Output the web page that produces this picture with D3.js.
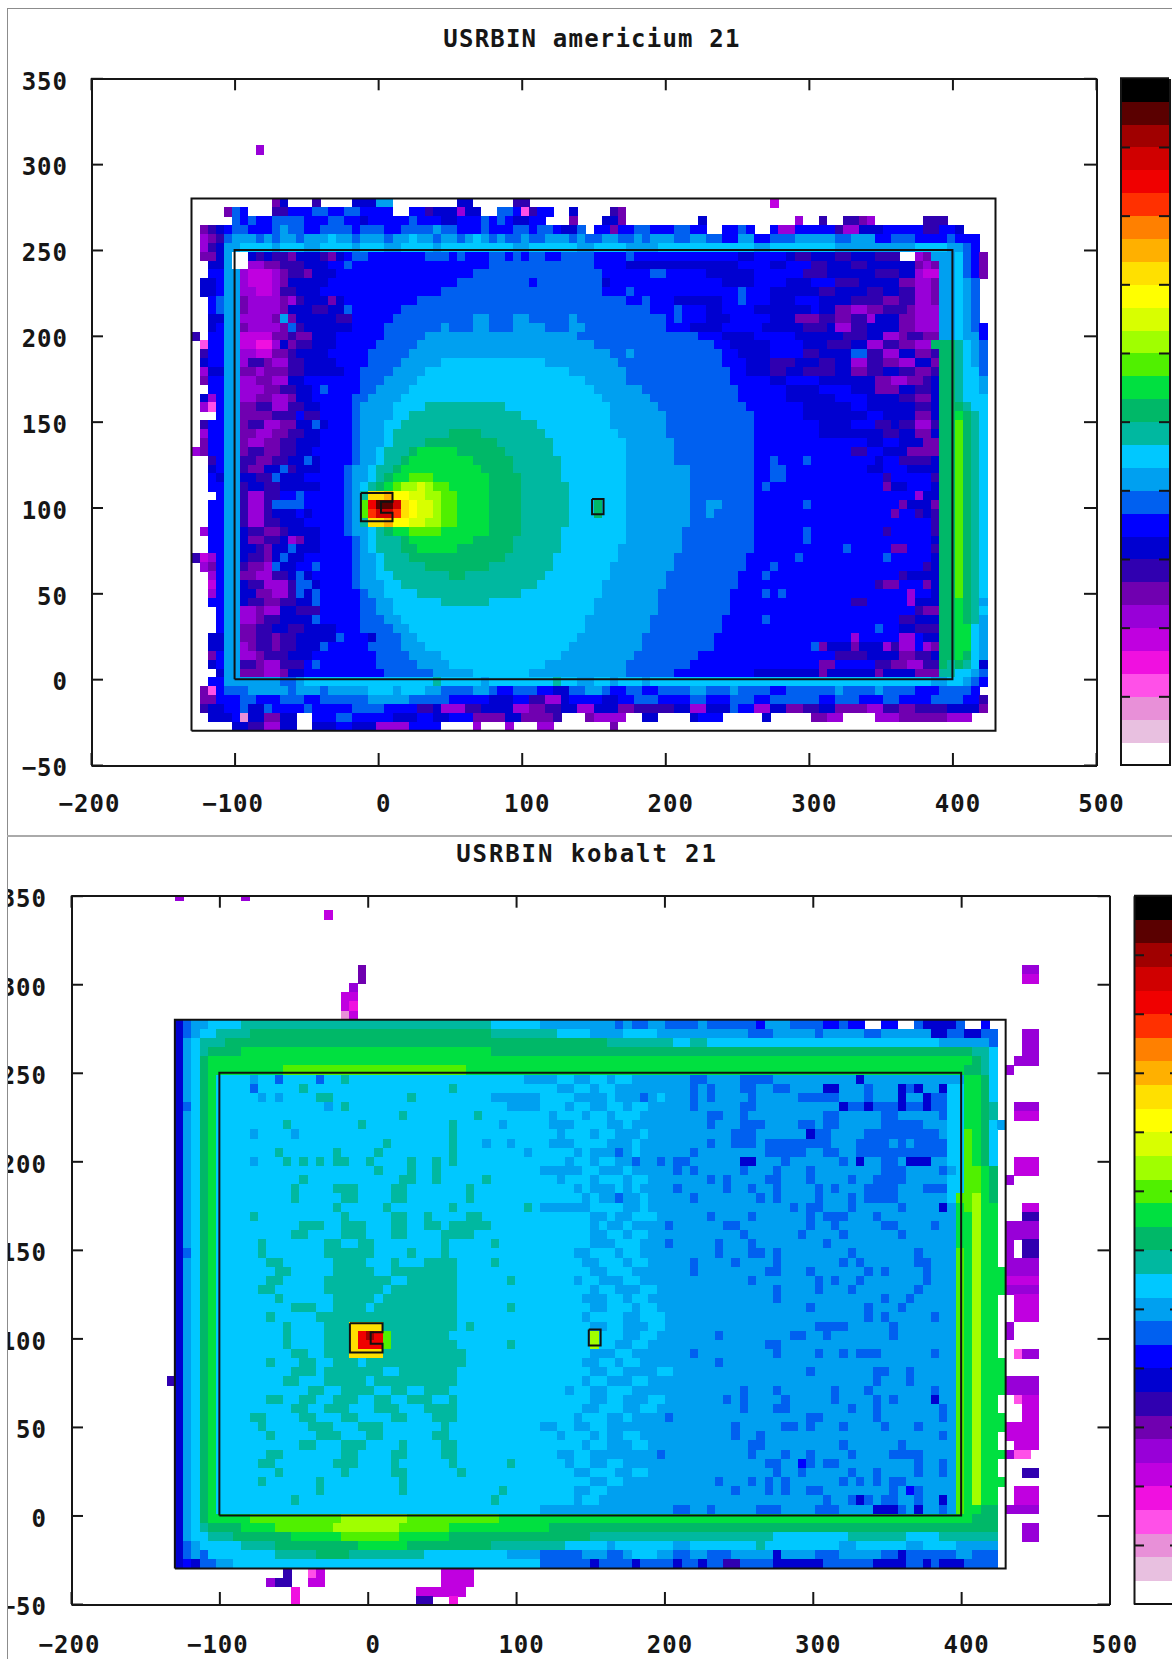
<!DOCTYPE html>
<html>
<head>
<meta charset="utf-8">
<script src="https://cdn.jsdelivr.net/npm/d3@7"></script>
<style>
body{margin:0;background:#fff}
svg{display:block}
text{font-family:"DejaVu Sans Mono",monospace;font-weight:bold;font-size:24px;fill:#161616;letter-spacing:1px}
.axis path,.axis line{stroke:#161616;stroke-width:2px}
</style>
</head>
<body>
<svg id="chart" width="1172" height="1659"></svg>
<script>
// colour levels of the palette, white (lowest) to black (highest)
var levelCodes = '_abcdefghijklmnopqrstuvwxyzABC'
var levelColors = ['#ffffff','#e8c0e0','#e890d8','#ff50e8','#f010e0','#c000e0','#9800d8','#7000b0','#3000b0','#0000d0',
    '#0000ff','#0060f0','#00a0f0','#00c8ff','#00b8a0','#00b868','#00e040','#50f000','#a0ff00','#d8ff00',
    '#ffff00','#ffe000','#ffb000','#ff8000','#ff3000','#f00000','#d00000','#a00000','#5a0000','#000000']

var xTicks = [-200,-100,0,100,200,300,400,500]
var yTicks = [-50,0,50,100,150,200,250,300,350]
var binStartX = -130, binWidthX = 5.6, binStartY = -30, binWidthY = 5.1667

// geometry outlines, in data units
var hallX = [-130,430], hallY = [-30,280]
var roomX = [-100,400], roomY = [0,250]
var sourceX = [-12,10,10,2,2,10,10,-12,-12], sourceY = [108.5,108.5,103.4,103.4,97,97,92,92,108.5]
var targetX = [149,157,157,149,149], targetY = [105,105,96,96,105]

// rows of level runs, top row first: letter = level, number = column the run ends at
var amTopRow = 65
var amRows = [
"_8 f9","","","","","",
"_10 g11 i12 _15 h16 _20 i23 l25 _33 i35 _40 h42 _72 e73",
"_4 g5 k6 j7 _10 h12 j15 k17 j19 k21 j25 _27 j29 h30 i33 f34 i36 _38 k40 j41 c42 h43 j45 _47 i48 _52 h53 g54",
"_5 k6 j7 k8 j10 k14 j17 k19 j21 i22 j27 k28 j31 i33 j36 k37 j38 k39 j40 i42 j44 _47 g48 _51 i53 g54 _63 i64 _75 f76 _78 h79 _81 h83 g84 f85 _91 h94",
"_1 g2 h3 i4 j5 k7 j10 k11 l12 k14 j16 k20 j21 k24 j26 k30 l31 k33 j36 k37 j40 k42 j43 k45 j46 i48 k49 _50 j52 g53 j55 k57 j60 k62 j64 _66 j68 k69 j70 _72 j73 f75 j80 h81 f83 i86 j91 h93 j95 i96",
"_1 f2 g3 h4 k5 l8 k9 l10 k11 l13 k14 l17 m18 l20 k21 l24 k25 l27 m28 l30 k31 l33 k34 l35 m36 l37 k38 l39 k41 l42 k44 l47 k48 l49 k51 l53 k55 l56 k57 l60 k62 l64 k66 j68 l70 j72 k75 l80 k82 l85 j87 k90 j94 k95 j98",
"_1 f2 h3 i4 l6 m10 l11 m14 l16 m20 l21 m24 l26 m30 l31 m40 l42 m48 l50 m54 l58 m70 l72 m80 l90 m94 l96 k97 j98",
"_1 g3 i4 l5 _7 i8 h9 i10 h12 g13 i16 h17 g18 i19 j20 k22 j29 k32 j33 k34 j37 k39 j40 k41 j42 k44 j46 k50 j54 k55 j68 i70 j74 i75 h77 i80 h82 i85 h88 _90 f91 g92 l95 m96 k97 j98 g99",
"_2 i4 l5 _7 f9 g11 h14 i17 j19 k20 j37 k50 j54 i68 j72 i74 j77 h79 i82 h84 i89 i90 g91 f92 g93 l95 m96 k97 j98 g99",
"_2 j4 l6 f7 e10 f11 g12 h14 g15 i18 j35 k51 j57 k59 j64 i70 j76 h79 i82 i85 h88 i90 f91 e93 l95 m96 k97 j98 g99",
"_1 i3 j4 l6 f7 e10 f11 g12 i17 j33 k42 j43 k51 i52 j66 i70 j74 i77 j80 h83 i85 i88 g90 f92 g93 l95 m96 l97 k98",
"_1 i3 j4 l6 f8 e10 f11 h13 i16 j31 k51 j54 k55 j68 k69 j72 i76 i78 h80 i84 h86 i88 h90 f92 g93 l95 m96 l97 k98",
"_2 j3 k4 l6 g7 f11 g12 f13 h14 i17 g18 i19 j28 k54 j56 k57 j60 i66 j68 k69 j72 i75 j78 i80 i82 h86 g88 h90 f92 g93 l95 m96 l97 k98",
"_2 j3 k4 l6 g7 f8 f11 g12 i15 h17 i19 k20 j26 k57 j60 k61 j64 i66 j70 i74 i77 j78 i80 g82 f84 g86 h89 g90 f93 l95 m96 l97 k98",
"_2 i4 l6 f7 f10 g11 l12 g13 i18 h20 j25 k35 l37 k40 l42 k47 l48 k59 j60 k61 j64 i67 j72 i75 g78 h80 g82 h84 f85 i88 g90 f93 l95 m96 l97 k98",
"_2 i3 j4 l6 g7 f9 f11 g12 k13 h14 i20 j24 k31 l32 k35 l37 k40 l44 k47 l49 k59 j62 i66 j71 i76 h79 i80 f82 h84 i88 g90 f93 l95 m96 l97 k98 j99",
"h1 _2 j4 l6 e10 g12 h13 g15 i18 j24 k29 l48 k63 j66 i70 j75 i78 i81 h84 i86 f88 g89 h91 g93 l95 m96 l98 j99",
"_1 c2 j4 l6 e8 d10 f11 i12 g13 h15 i18 j23 k28 l50 k65 j67 i72 j76 i79 h82 i84 f86 h88 g90 f92 o95 n96 m97 l98 k99",
"_1 h2 j4 l6 f8 e10 g12 h13 i17 j22 k27 l52 k54 l55 k66 j68 i72 j76 h78 i82 k84 h86 f88 i90 g92 h93 o95 n96 m97 l98 k99",
"_1 i2 j4 l6 f7 h9 g10 f12 h14 i18 j22 k26 l31 m44 l53 k66 j69 i72 h75 i78 h80 i82 f84 h86 g88 f90 i92 g93 o95 n96 m97 l98 k99",
"_1 f2 i4 l6 g8 f9 g12 h14 i19 j21 k25 l29 m47 l54 k67 j69 i72 h74 i76 h80 i82 g84 h86 i88 h90 g92 h93 o95 n96 m98 k99",
"_1 g2 j4 l6 f8 g10 f12 i14 j21 k24 l28 m49 l54 k67 j72 i74 j78 i82 i85 g87 f89 g91 h92 i93 o95 n96 m98 l99",
"_2 j4 l6 f7 f9 g11 h13 i15 j16 k17 j21 k23 l27 m50 l56 k68 j74 i78 j82 i85 g88 i90 h92 i93 o95 n96 m98 l99",
"_1 i2 f3 j4 l6 f8 g10 f12 g13 i15 j20 k22 l26 m51 l57 k68 j74 i80 j84 i86 i88 h90 g92 i93 o95 n96 m99",
"_1 f2 c3 j4 l6 g8 h10 f12 h14 i16 j20 k21 l25 m29 n39 m52 l58 k69 j76 i82 j84 i86 i90 h92 i93 o96 n97 m99",
"_3 j4 l6 g7 g10 h13 j14 h16 j20 k21 l25 m27 n41 m52 l59 k70 j76 i84 j86 i88 i90 g92 i93 o95 p96 o97 n98 m99",
"_1 h2 j4 l6 g7 h9 f11 g13 i15 k16 i17 j20 k21 l24 m26 n43 m52 l59 k70 j78 i82 j85 h87 i88 h90 f92 h93 o95 q96 o97 n98 m99",
"_1 f2 j4 l6 g8 f10 g12 h14 i16 j20 k21 l24 m25 n32 o36 n44 m53 l59 k70 j78 i86 h88 i90 g92 i93 o95 q96 o97 n98 m99",
"_1 g2 j4 l6 g7 f9 g11 h13 i16 j20 k21 l24 m25 n29 o38 n45 m54 l60 k70 j84 i86 j88 i91 g93 o95 q96 o97 n98 m99",
"f1 g2 j4 l6 g7 h9 g11 h13 i15 j20 k21 l23 m24 n27 o28 p33 o39 n45 m54 l60 k70 j82 h84 j86 i89 g93 o95 q96 o97 n98 m99",
"_2 h3 j4 l6 h8 g10 h12 i14 k15 i16 j20 k21 l23 m24 n26 o27 p35 o40 n46 m54 l60 k70 j72 k73 j76 k77 j85 i86 j88 h92 i93 o95 q96 o97 n98 m99",
"_2 i3 j4 l6 h7 g9 i11 k12 h13 i16 j19 k20 l22 m23 n25 o26 p36 o40 n46 m54 l62 k70 j72 k74 j84 i86 j89 i93 o95 q96 o97 n98 m99",
"_2 j3 i4 l6 i8 h10 k11 i14 j19 k20 l22 m23 n24 o25 p27 q30 p37 o41 n46 m54 l62 k70 j72 k74 j86 h87 j92 h93 o95 q96 o97 n98 m99",
"_2 j4 l6 h7 i9 h11 i16 j19 k20 l21 m22 n23 o24 p25 q26 r28 s29 r30 q32 p37 o41 n47 m54 l62 k70 j71 k72 j86 g87 i89 j92 i93 o95 q96 o97 n98 m99",
"_3 j4 l6 h7 f9 h11 j13 k14 j19 k20 l21 n22 u24 v25 t27 s29 r31 q33 p37 o41 n47 m54 l62 k70 j90 f91 i93 o95 q96 o97 n98 m99",
"_2 j4 l6 h7 f9 h10 k11 k14 j19 k20 l21 q22 y23 B25 z26 u27 t28 s30 r31 q33 p37 o41 n47 m50 o51 m54 l62 k64 l66 k70 j76 k77 j88 g89 i92 g93 o95 q96 o97 n98 m99",
"_2 j4 l6 h7 f9 h10 i13 j14 i15 j19 k20 l21 q22 x23 z25 x26 u27 t28 s30 r31 q33 p37 o41 n47 m50 o51 m54 l62 k64 l65 k70 j87 g88 j90 h91 i92 h93 o95 q96 o97 n98 m99",
"_2 j4 l6 h7 f9 h11 i14 j19 k20 l21 n22 u24 v25 t27 s29 r31 q33 p37 o41 n47 m54 l62 k70 j92 h93 o95 q96 o97 n98 m99",
"_1 f2 j4 l6 i7 h9 g11 h12 i16 j19 k20 l22 m23 n24 o25 p27 q31 p37 o41 n46 m54 l61 k70 j76 k77 j86 h87 j92 h93 o95 q96 o97 n98 m99",
"_2 j4 l6 i7 g9 h11 i12 f13 g14 i16 j20 k21 l22 m23 n26 o27 p35 o40 n46 m54 l61 k70 j76 k77 j92 i93 o95 q96 o97 n98 m99",
"_2 j4 l6 i8 h9 g10 i12 k13 i16 j20 k21 l22 m23 n26 o28 p33 o40 n46 m53 l61 k70 j81 k82 j87 g89 j92 h93 o95 q96 o97 n98 m99",
"h1 e2 f3 j4 l6 i7 h9 g10 i11 k12 i14 j20 k21 l23 m24 n27 o39 n45 m53 l60 k69 j75 k76 j86 k87 j92 i93 o95 q96 o97 n98 m99",
"_1 f2 g3 j4 l6 h7 g9 f10 k11 i13 j15 k16 j20 k21 l23 m24 n29 o37 n45 m52 l60 k69 j72 k73 j91 h92 i93 o95 q96 o97 n98 m99",
"_2 f3 j4 l6 g8 f10 h12 i13 k14 i15 j20 k21 l23 m25 n32 o34 n44 m52 l59 k68 j71 k72 j88 h89 i93 o95 q96 o97 n98 m99",
"_2 e3 j4 l6 i7 h9 f12 h13 k15 i16 j20 k21 l24 m26 n43 m51 l59 k68 j85 h86 g88 j91 g92 i93 o95 q96 o97 n98 m99",
"_2 f3 j4 l6 i8 g10 f12 h13 k14 i15 k16 j21 k22 l24 m28 n41 m51 l58 k67 j71 k72 j73 k74 j89 f90 j92 i93 o95 q96 o97 n98 m99",
"_2 j4 l6 i7 h9 g11 h13 i15 k16 j21 k23 l25 m31 n37 m50 l58 k67 j82 h84 j89 f90 i93 o95 p96 o97 n98 l99",
"_3 j4 l6 f7 f8 g9 f11 i13 h16 j21 k23 l25 m50 l58 k67 j90 h91 g93 o95 p96 o97 n98 m99",
"_3 j4 l6 f7 f8 g9 h11 i15 k16 j21 k24 l26 m49 l57 k66 j71 k72 j88 h90 i93 o95 p96 o97 n98 l99",
"_3 j4 l6 g8 h10 i12 h14 i18 j21 k25 l27 m49 l57 k66 j85 k86 j88 i90 h93 o95 p97 m98 l99",
"_2 i4 l6 g8 h10 g11 h13 i18 k19 j22 i23 k26 l28 m48 l56 k65 j82 f83 j88 f90 j91 i93 o95 p97 m98 l99",
"_2 i4 l6 f7 g8 h10 g11 h13 i16 k17 j22 k26 l29 m47 l56 k65 j77 k78 g79 i82 g83 i86 f87 h88 f90 j91 f92 g93 o95 p97 m98 l99",
"_2 g3 j4 l6 f8 g9 h12 i15 j23 k27 l31 m46 l55 k63 j80 h84 i88 g90 h92 i93 o95 p96 o97 m98 l99",
"_2 i3 j4 l6 h8 g9 f11 h14 j15 k16 j23 k28 l32 m44 l54 k62 j78 g80 j85 h87 g89 f91 h93 o94 n95 o96 n97 m98 i99",
"_3 i4 l6 g7 g9 f11 g12 i14 j24 k30 l35 m42 l54 k60 j70 i78 g79 i85 g86 i90 g93 n95 m97 l98 k99",
"_2 j4 l11 k13 l14 m30 n31 m36 l37 m45 n46 m48 l50 m52 l53 m56 l57 m92 l94 m96 l97 k98 j99",
"_1 g2 c3 j4 k7 l12 k13 l16 k17 l22 m25 l26 m29 l31 k35 l37 k38 j40 k43 j45 i47 k49 l51 k52 j54 k56 j58 k62 l64 k67 l68 k72 j74 k80 l81 k85 l86 k90 j93 k97 j98",
"_1 g3 j6 k8 j11 k14 j16 k22 l27 k32 j37 i40 j42 h44 f46 i47 j51 i53 j55 k58 j62 k64 j67 k70 j72 k78 j80 k83 j86 k88 j92 k96 j98 h99",
"_1 h2 i4 j6 k7 i9 k10 j14 k15 j20 k24 j28 h30 i31 f34 h36 i40 f42 g44 h46 i48 f50 i53 g55 h60 i62 f64 i67 k68 j70 f72 i74 g76 h78 i80 g84 f86 h88 g90 h94 i96 i98 g99",
"_2 i5 j6 b7 i9 g11 i13 _15 j18 k20 j25 i28 j30 i32 j35 g39 i41 g45 h46 _49 g50 f54 _56 i58 _62 i63 j66 _71 i72 _77 g79 f81 _85 f88 g90 g94 f97",
"_5 i7 h9 f11 i13 _15 i18 j20 i23 f25 f27 j31 _35 f36 _39 f40 _43 f45 _52 g53"
]
var amCbTicks = [3,6,9,12,15,18,21,24,27]

var coTopRow = 73
var coRows = [
"f1 _8 f9","","_18 e19","","","","","",
"_22 g23 _102 f104",
"_22 g23 _102 e104",
"_21 f22",
"_20 e22",
"_20 e21 d22",
"_20 b21 e22",
"i1 k2 l4 m8 n38 m44 l53 k54 l55 k57 l59 k63 l64 k70 j71 l74 k78 j80 k81 j83 _85 j87 _89 k90 i94 k95 _97 j98",
"i1 k2 l3 m5 n9 o38 n46 m50 l54 m58 l69 k72 l77 k78 l83 k85 l91 i93 k95 i97 k99 _102 f104",
"i1 l2 m3 n6 o52 n60 m62 n64 m92 l98 k99 _102 f104",
"i1 l2 m3 n4 o8 p38 o96 n98 m99 _102 f104",
"i1 l2 m3 o4 p96 o97 n98 m99 _101 f104",
"i1 l2 m3 o4 p13 q35 p95 o97 n98 m99 _100 f101",
"i1 l2 m3 o4 p5 m9 l10 m12 k13 m17 k18 m20 n21 m42 l46 m48 l50 m52 l53 m55 l62 k64 l68 k72 l82 i83 l95 p97 o98 m99",
"i1 l2 m3 o4 p5 m9 k10 m15 n16 m33 n34 m46 l48 m50 l51 m53 l62 k63 l64 k65 l68 k70 l72 k74 l78 i80 l83 k84 l87 i88 k89 i90 l92 i93 m95 p97 o98 m99",
"i1 l2 m3 o4 p5 m10 l11 m12 l13 m17 n19 m28 n29 m38 l44 m48 l52 m53 l56 k57 l58 m59 l62 k63 l64 k65 l69 k70 l75 k80 l83 k84 l87 i88 l90 i91 k93 m95 p97 o98 m99",
"i1 k2 m3 o4 p5 m18 l19 m20 n21 m40 l44 m47 l48 m50 l52 m54 l55 m57 l62 k63 l68 k70 l80 i81 k83 i84 k87 i88 k90 i91 k93 m95 p97 o98 n99 _101 f104",
"i1 l2 m3 o4 p5 m27 n28 m36 n37 m45 l46 m49 l50 m52 l53 m56 l64 k66 l68 k69 l78 k80 l85 k87 l92 k93 m95 p97 o98 n99 _101 e104",
"i1 l2 m3 o4 p5 m13 n14 m22 n23 m33 n34 m39 l40 m45 l48 m52 l54 m55 l64 k65 l68 k71 l75 k77 l78 k80 l85 k90 l93 m95 p97 o98 m99 l100",
"i1 l2 m3 o4 p5 m9 l10 m14 l15 m33 n34 m46 l47 m50 l51 m53 l56 m57 l67 k70 l76 i77 k79 l83 k85 k92 l93 m95 q96 p97 o98 m99",
"i1 l2 m3 o4 p5 m25 n26 m33 n34 m37 l38 m40 l41 m45 l48 m52 l55 m56 l64 k65 l67 k70 l71 k79 l82 k86 l87 k88 l89 k93 m95 q96 p97 o98 m99",
"i1 l2 m3 o4 p5 m12 n13 m19 n20 m24 n25 m33 n34 m42 l43 m48 l49 m50 l53 k54 l55 m56 l62 k63 l71 k76 l78 k80 l82 k93 m95 q96 p97 o98 m99",
"i1 l2 m3 o4 p5 m9 l10 m13 n14 m15 n16 m17 n18 m19 n21 m23 n24 m28 n29 m31 n32 m33 n34 m47 l48 m50 l51 m53 l55 k56 l58 k59 l60 k62 l68 i70 l73 k74 l80 k81 l82 i83 l85 k87 l88 i91 l93 m95 q96 p97 o98 m99 _101 e104",
"i1 l2 m3 o4 p5 m24 n25 m28 n29 m31 n32 m44 l49 m51 l54 m55 l60 k61 l62 k63 l68 k69 l72 k73 l76 k77 l85 k88 l92 k93 l94 m95 q97 p98 o99 _101 e104",
"i1 l2 m3 o4 p5 m15 n16 m27 n29 m31 n32 m37 n38 m46 l47 m50 l51 m54 l55 m57 l64 k65 l66 k67 l71 k73 l76 k77 l81 k82 l84 k88 l93 m95 q97 p98 o99 _100 f101",
"i1 l2 m3 o4 p5 m14 n15 m19 n22 m26 n28 m35 n36 m48 l49 m50 l53 m54 l55 m56 l60 k61 l66 k67 l69 k70 l72 k73 l77 k78 l79 k80 l83 k87 l90 k93 m95 q97 p98 o99",
"i1 l2 m3 o4 p5 m14 n15 m20 n22 m26 n28 m35 n36 m49 l50 m51 l53 k54 l56 m57 l62 k63 l70 k71 l72 k73 l77 k78 l81 k82 l83 k87 l93 m94 q96 r97 p98 o99",
"i1 l2 m3 o4 p5 m19 n20 m25 n26 m33 n34 m42 n43 m44 l50 m54 l56 m57 l74 k75 l76 k78 l81 k82 l87 k88 l92 i93 l94 p95 q96 r97 p99 _102 e104",
"i1 l2 m3 o4 p5 m9 n10 m20 n21 m26 n28 m30 n31 m35 n37 m50 l52 m53 l55 m58 l64 k65 l69 k70 l76 k77 l78 k81 l84 k85 l94 p96 r97 p99 _102 h104",
"i1 l2 m3 o4 p5 m15 n18 m20 n23 m26 n28 m30 n32 m33 n38 m50 l51 m52 l54 m55 l59 k60 l66 k68 l76 k77 l79 k80 l85 k87 l91 k92 l94 p96 r97 p99 _100 f104",
"i1 l2 m3 o4 p5 m14 n16 m20 n23 m26 n28 m32 n36 m50 l52 m54 l55 m57 l68 k69 l75 k76 l80 k81 l87 k88 l94 p96 r97 p99 _100 f104",
"i1 l2 m3 o4 p5 m10 n11 m18 n20 m22 n24 m32 n33 m38 n39 m50 l53 m56 l59 k60 l65 k66 l69 k70 l78 k79 l94 p96 r97 p99 _100 f101 _102 h104",
"i1 k2 m3 o4 p5 m10 n11 m18 n24 m28 n29 m32 n33 m48 l50 m53 l54 m56 l65 k66 l69 k71 l72 k73 l81 k82 l89 k90 l94 q95 p96 r97 p99 _100 f101 _102 h104",
"i1 l2 m3 o4 p5 m11 n13 m19 n23 m26 n27 m30 n34 m38 n39 m49 l51 m54 l55 m57 l62 k63 l67 k68 l72 k73 l80 k81 l82 k83 l89 k91 l94 q95 p96 r97 p99 _100 f104",
"i1 l2 m3 o4 p5 m12 n14 m19 n24 m26 n34 m50 l52 m55 l62 k63 l71 k73 l76 k77 l83 k84 l85 k86 l90 k91 l94 q95 p96 r97 p100 f104",
"i1 l2 m3 o4 p5 m11 n13 m18 n26 m28 n34 m40 n41 m48 l49 m51 l54 m56 l69 k70 l77 k78 l79 k80 l82 k83 l90 k91 l94 q95 p96 r97 p100 e104",
"i1 l2 m3 o4 p5 m10 n12 m18 n25 m26 n34 m50 l51 m53 l56 m58 l72 k73 l77 k78 l81 k82 l89 k90 l94 q95 p96 r97 p100 f104",
"i1 l2 m3 o4 p5 m12 n13 m19 n24 m25 n34 m49 l52 m54 l55 m57 l72 k73 l85 k86 l88 k89 l94 q95 p96 r97 p99 _101 e104",
"i1 l2 m3 o4 p5 m14 n17 m19 n23 m24 n34 m40 n41 m50 l52 m55 l56 m58 l76 k77 l83 k84 l87 k88 l94 q95 p96 r97 p99 _101 e104",
"i1 l2 m3 o4 p5 m11 n12 m17 n34 m49 l50 m54 l56 m59 l83 k84 l85 k86 l91 k92 l94 q95 p96 r97 p99 _101 e104",
"i1 l2 m3 o4 p5 m13 n14 m18 n21 u25 n34 m35 n36 m50 l52 m54 l57 m59 l77 k81 l86 k87 l94 q95 p96 r97 p99 _100 f101",
"i1 l2 m3 o4 p5 m13 n14 m18 n21 u22 y23 A24 y25 q26 n33 m50 r51 m54 l56 m58 l65 k66 l74 k76 l78 k79 l86 k87 l94 q95 p96 r97 p99 _100 f101",
"i1 l2 m3 o4 p5 m13 n14 m18 n21 u22 y25 q26 n34 m40 n41 m50 r51 m53 l55 m57 l71 k73 l94 q95 p96 r97 p99",
"i1 l2 m3 o4 p5 m14 n16 m18 n21 u25 n35 m50 l53 m55 l62 k63 l72 k73 l77 k78 l80 k81 l82 k85 l91 k92 l94 q95 p96 r97 p99 _101 c102 f104",
"i1 l2 m3 o4 p5 m11 n12 m15 n17 m19 n22 m23 n35 m49 l51 m53 l54 m56 l65 k66 l94 q95 p96 r97 p100",
"i1 l2 m3 o4 p5 m14 n17 m18 n25 m27 n34 m50 l52 m54 l58 m60 l76 k77 l84 k86 l88 k89 l94 q95 p96 r97 p100",
"i1 l2 m3 o4 p5 m13 n15 m18 n23 m24 n34 m49 l50 m52 l55 m57 l84 k85 l88 k89 l94 q95 p96 r97 p100 f104",
"i1 l2 m3 o4 p5 m16 n18 m20 n24 m26 n28 m30 n33 m47 l48 m50 l52 m55 l68 k69 l72 k73 l79 k80 l83 k84 l91 k92 l94 q95 p96 r97 p100 f104",
"i1 l2 m3 o4 p5 m11 n13 m15 n17 m19 n22 m24 n26 m28 n31 m33 n34 m50 l52 m54 l57 m59 l66 k67 l68 k69 l73 k74 l79 k80 l84 k85 l86 k87 l91 i92 l94 q95 p96 r97 p99 _101 c102 e104",
"i1 l2 m3 o4 p5 m14 n16 m18 n21 m24 n27 m30 n34 m49 l51 m54 l56 m58 l68 k69 l72 k74 l81 k82 l84 k85 l92 k93 l94 q95 p96 r97 p99 _102 e104",
"i1 l2 m3 o4 p5 m9 n11 m15 n17 m20 n22 m26 n28 m31 n34 m48 l49 m52 l54 m55 l59 k60 l76 k78 l84 k85 l92 k93 l94 q95 p96 r97 p100 _102 e104",
"i1 l2 m3 o4 p5 m10 n11 m16 n19 m22 n25 m32 n33 m44 l46 m48 l50 m52 l67 k68 l73 k75 l76 k77 l80 k81 l85 k86 l89 k90 l94 q95 p96 r97 p100 e104",
"i1 l2 m3 o4 p5 m11 n12 m17 n20 m23 n25 m31 n33 m46 l47 m50 l51 m52 l54 m56 l67 k68 l70 k71 l92 k93 l94 q95 p96 r97 p99 _100 e104",
"i1 l2 m3 o4 p5 m15 n17 m20 n23 m27 n28 m32 n34 m49 l50 m52 l55 m57 l69 k71 l80 k81 l87 k88 l94 q95 p96 r97 p99 _101 e104",
"i1 l2 m3 o4 p5 m11 n13 m20 n22 m26 n28 m32 n34 m46 l48 m50 l58 k59 l69 k70 l73 k74 l76 k77 l81 k82 l86 k90 l94 q95 p96 r97 p100 f101 c103",
"i1 l2 m3 o4 p5 m10 n12 m19 n22 m26 n27 m33 n34 m40 n41 m47 l48 m50 l52 m54 l71 k73 l75 j76 k77 l78 k80 l89 k90 l92 k93 l94 q95 p96 r97 p99",
"i1 l2 m3 o4 p5 m12 n13 m20 n21 m26 n28 m34 n35 m48 l50 m53 l55 m57 l72 k73 l75 k76 l81 k82 l84 k85 l89 k90 l92 k93 l94 q95 p96 r97 p99 _102 h104",
"i1 l2 m3 o4 p5 m10 n11 m17 n18 m27 n28 m50 l52 m54 l65 k66 l69 k70 l71 k72 l73 k74 l80 k81 l82 k83 l84 k85 l86 k88 l94 q95 p96 r97 p100",
"i1 l2 m3 o4 p5 m17 n18 m27 n28 m39 n40 m48 l50 m52 l67 k68 l71 k72 l73 k74 l76 k78 l86 k87 l88 j89 k90 l94 q95 p96 r97 p99 _101 e104",
"i1 l2 m3 o4 p5 m14 n15 m38 n39 m48 l49 m51 l78 k79 l81 k82 i83 k84 l85 k87 l89 k90 l92 i93 l94 q95 p96 r97 p99 _101 e104",
"i1 l2 m3 o4 p5 m44 l60 k62 l64 k65 l70 k73 l77 k80 l84 i87 k88 l89 i90 l92 k93 l94 q95 p97 o99 _100 f104",
"i1 l2 m3 o4 p9 q20 r28 q39 p96 o99",
"i1 l2 m3 n4 o8 p12 q19 r27 q33 p45 o99 _102 f104",
"i1 l2 m4 n7 o14 p20 q27 p33 o50 n72 m81 n88 m92 n99 _102 f104",
"i1 k2 l3 m8 n12 o22 p28 o38 n47 m52 l53 m60 l62 m70 n71 m80 l82 m88 l90 m94 l99",
"i1 k2 l3 k4 m12 n17 o21 n30 m40 l44 k49 l52 k54 l55 m58 l60 k62 l64 k67 l72 i73 l77 k80 l85 k87 i88 k94 l96 k99",
"i1 j2 i3 k5 l7 m44 k50 i51 k55 i56 k60 i61 k63 i64 k66 h68 k72 i78 k84 i88 k90 i91 k92 i95 k99",
"_13 h14 _16 c17 e18 _32 e36",
"_11 f12 h14 _16 e18 _32 e36",
"_14 d15 _29 e35",
"_14 d15 _29 h31 _33 d34"
]
// the one bin left of the first column in the kobalt plot
var coStray = [{col:-1,row:20,code:'h'}]
var coCbTicks = [2.5,5,7.5,10,12.5,15,17.5,20,22.5,25,27.5]

var svg = d3.select('#chart')

var parseRow = function(s, row) {
    var out = [], col = 0
    s.replace(/([_a-zA-C])(\d+)/g, function(m, code, end) {
        while (col < +end) {
            if (code != '_') out.push({col:col, row:row, code:code})
            col++
        }
        return m
    })
    return out
}

var drawPanel = function(p) {
    var x = d3.scaleLinear().domain([-200,500]).range([p.left, p.right])
    var y = d3.scaleLinear().domain([-50,350]).range([p.bottom, p.top])
    var line = d3.line().x(function(d){ return x(d[0]) }).y(function(d){ return y(d[1]) })

    var clipId = 'clip' + p.id
    svg.append('clipPath').attr('id', clipId).append('rect')
        .attr('x', p.left).attr('y', p.top)
        .attr('width', p.right - p.left).attr('height', p.bottom - p.top)

    // bins
    var cells = []
    p.rows.forEach(function(s, i) { cells = cells.concat(parseRow(s, p.topRow - i)) })
    cells = cells.concat(p.stray)
    svg.append('g').attr('clip-path', 'url(#' + clipId + ')')
        .attr('shape-rendering', 'crispEdges')
        .selectAll('rect').data(cells).enter().append('rect')
        .attr('x', function(d) { return x(binStartX + binWidthX * d.col) })
        .attr('y', function(d) { return y(binStartY + binWidthY * (d.row + 1)) })
        .attr('width', x(binWidthX) - x(0) + 0.5)
        .attr('height', y(0) - y(binWidthY) + 0.5)
        .attr('fill', function(d) { return levelColors[levelCodes.indexOf(d.code)] })

    // geometry
    var box = function(xs, ys) {
        return [[xs[0],ys[0]],[xs[1],ys[0]],[xs[1],ys[1]],[xs[0],ys[1]],[xs[0],ys[0]]]
    }
    var zipped = function(xs, ys) { return xs.map(function(v, i) { return [v, ys[i]] }) }
    var outlines = [box(hallX, hallY), box(roomX, roomY), zipped(sourceX, sourceY), zipped(targetX, targetY)]
    svg.append('g').selectAll('path').data(outlines).enter().append('path')
        .attr('d', line).attr('fill', 'none').attr('stroke', '#111').attr('stroke-width', 2)

    // axes with inward ticks, labels on the bottom and left only
    svg.append('g').attr('class', 'axis xlab').attr('transform', 'translate(0,' + p.bottom + ')')
        .call(d3.axisBottom(x).tickValues(xTicks).tickSize(-12).tickSizeOuter(0).tickPadding(p.xPad))
    svg.append('g').attr('class', 'axis').attr('transform', 'translate(0,' + p.top + ')')
        .call(d3.axisTop(x).tickValues(xTicks).tickSize(-12).tickSizeOuter(0).tickFormat(''))
    svg.append('g').attr('class', 'axis ylab').attr('transform', 'translate(' + p.left + ',0)')
        .call(d3.axisLeft(y).tickValues(yTicks).tickSize(-12).tickSizeOuter(0).tickPadding(p.yPad))
    svg.append('g').attr('class', 'axis').attr('transform', 'translate(' + p.right + ',0)')
        .call(d3.axisRight(y).tickValues(yTicks).tickSize(-12).tickSizeOuter(0).tickFormat(''))
    svg.selectAll('.xlab text').attr('dx', function(d) { return d < 0 ? -2 : 5 })
    svg.selectAll('.ylab text').attr('dy', '0.45em')
    svg.selectAll('.axis .domain').attr('shape-rendering', 'crispEdges')
    svg.selectAll('.xlab text, .ylab text').attr('font-family', null).attr('font-size', null)
        .attr('fill', null).style('font-family', '"DejaVu Sans Mono",monospace').style('font-size', '24px')

    svg.append('text').attr('x', p.titleX).attr('y', p.titleY).attr('text-anchor', 'middle')
        .style('letter-spacing', p.titleSpacing).text(p.title)

    // colour bar
    var cy = d3.scaleLinear().domain([0,30]).range([p.bottom, p.top])
    svg.append('g').selectAll('rect').data(levelColors).enter().append('rect')
        .attr('shape-rendering', 'crispEdges')
        .attr('x', p.barLeft).attr('width', p.barRight - p.barLeft)
        .attr('y', function(d, i) { return cy(i + 1) })
        .attr('height', cy(0) - cy(1) + 0.5)
        .attr('fill', function(d) { return d })
    svg.append('g').attr('class', 'axis').attr('transform', 'translate(' + p.barLeft + ',0)')
        .call(d3.axisLeft(cy).tickValues(p.cbTicks).tickSize(-10).tickSizeOuter(0).tickFormat(''))
    svg.append('g').attr('class', 'axis').attr('transform', 'translate(' + p.barRight + ',0)')
        .call(d3.axisRight(cy).tickValues(p.cbTicks).tickSize(-10).tickSizeOuter(0).tickFormat(''))
    svg.append('line').attr('x1', p.barLeft).attr('x2', p.barRight).attr('y1', p.top).attr('y2', p.top)
        .attr('stroke', '#111').attr('stroke-width', 2)
    svg.append('line').attr('x1', p.barLeft).attr('x2', p.barRight).attr('y1', p.bottom).attr('y2', p.bottom)
        .attr('stroke', '#111').attr('stroke-width', 2)
}

drawPanel({id:'am', rows:amRows, topRow:amTopRow, stray:[], cbTicks:amCbTicks,
    left:91, right:1096, top:78.3, bottom:765, xPad:30, yPad:23,
    title:'USRBIN americium 21', titleX:592, titleY:47, titleSpacing:'1.2px', barLeft:1120, barRight:1169})
drawPanel({id:'co', rows:coRows, topRow:coTopRow, stray:coStray, cbTicks:coCbTicks,
    left:71, right:1109.5, top:895.7, bottom:1604, xPad:32, yPad:24,
    title:'USRBIN kobalt 21', titleX:587, titleY:862, titleSpacing:'1.9px', barLeft:1134, barRight:1180})

// the picture's frame: covers what sticks out on the left, then the grey rules
svg.append('rect').attr('x', 0).attr('y', 0).attr('width', 7).attr('height', 1659).attr('fill', '#fff')
svg.append('line').attr('x1', 7.5).attr('x2', 7.5).attr('y1', 8).attr('y2', 1659).attr('stroke', '#8c8c8c')
svg.append('line').attr('x1', 7).attr('x2', 1172).attr('y1', 8.5).attr('y2', 8.5).attr('stroke', '#8c8c8c')
svg.append('line').attr('x1', 7).attr('x2', 1172).attr('y1', 836).attr('y2', 836).attr('stroke', '#aaa').attr('stroke-width', 2)
</script>
</body>
</html>
